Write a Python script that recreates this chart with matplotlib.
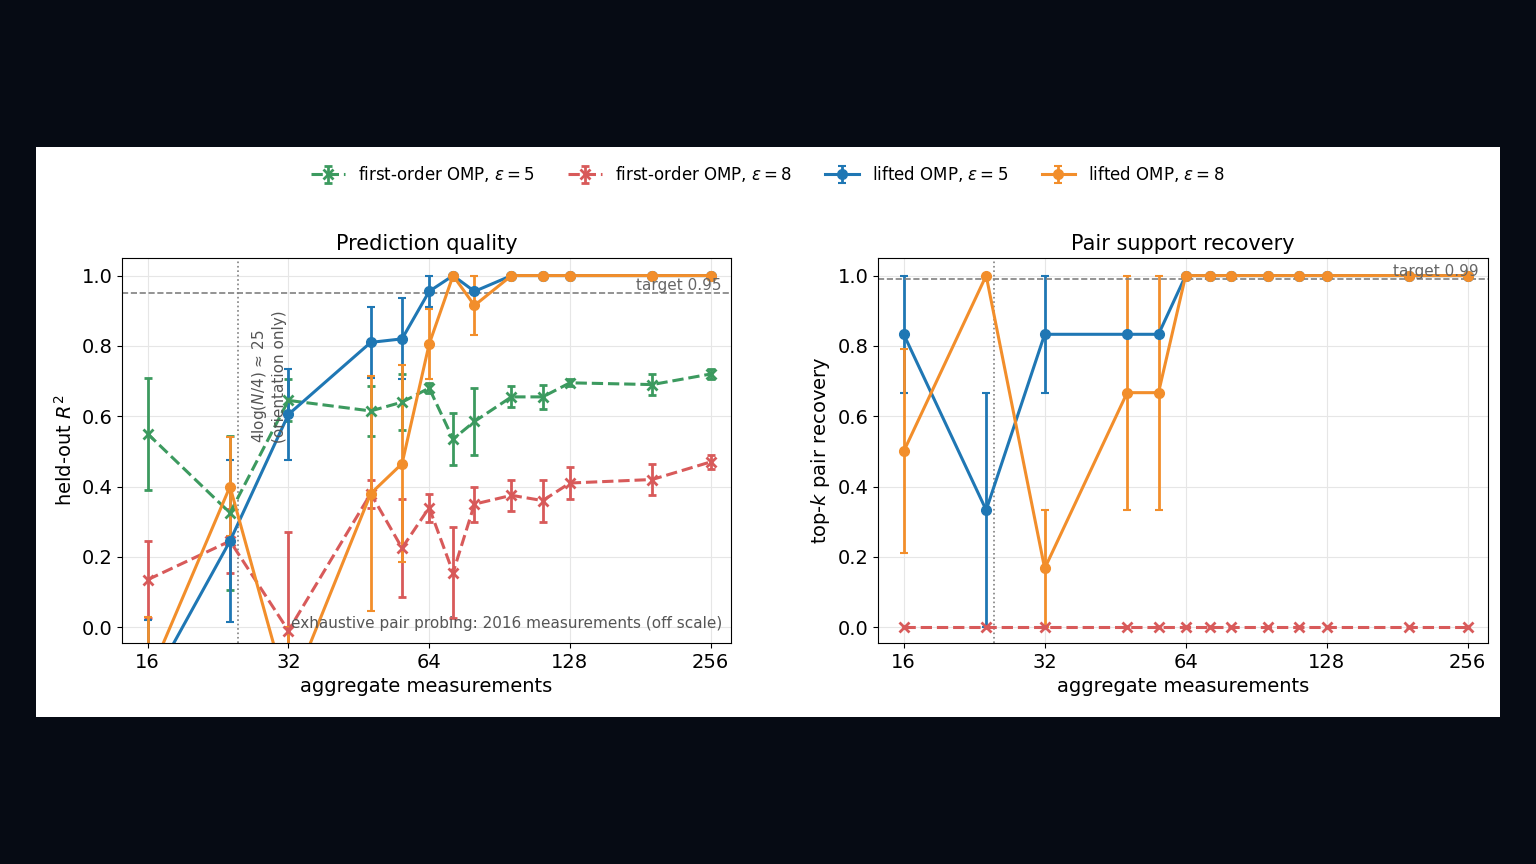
import numpy as np
import matplotlib.pyplot as plt
from matplotlib.patches import Rectangle

# measurement counts
m = [16, 24, 32, 48, 56, 64, 72, 80, 96, 112, 128, 192, 256]

# held-out R^2 (mean, error)
r2_fo5 = [0.55, 0.325, 0.645, 0.615, 0.64, 0.68, 0.535, 0.585, 0.655, 0.655, 0.695, 0.69, 0.72]
r2_fo5_err = [0.16, 0.22, 0.06, 0.07, 0.08, 0.015, 0.075, 0.095, 0.03, 0.035, 0.01, 0.03, 0.015]
r2_fo8 = [0.135, 0.245, -0.01, 0.38, 0.225, 0.34, 0.155, 0.35, 0.375, 0.36, 0.41, 0.42, 0.47]
r2_fo8_err = [0.11, 0.09, 0.28, 0.04, 0.14, 0.04, 0.13, 0.05, 0.045, 0.06, 0.045, 0.045, 0.02]
r2_l5 = [-0.18, 0.245, 0.605, 0.81, 0.82, 0.955, 1.0, 0.955, 1.0, 1.0, 1.0, 1.0, 1.0]
r2_l5_err = [0.2, 0.23, 0.13, 0.1, 0.115, 0.045, 0.0, 0.0, 0.0, 0.0, 0.0, 0.0, 0.0]
r2_l8 = [-0.15, 0.40, -0.2, 0.38, 0.465, 0.805, 1.0, 0.915, 1.0, 1.0, 1.0, 1.0, 1.0]
r2_l8_err = [0.18, 0.14, 0.2, 0.335, 0.28, 0.1, 0.0, 0.085, 0.0, 0.0, 0.0, 0.0, 0.0]

# top-k pair recovery (mean, lower err, upper err)
rec_fo8 = [0.0] * 13
rec_l5 = [0.833, 0.333, 0.833, 0.833, 0.833, 1, 1, 1, 1, 1, 1, 1, 1]
rec_l5_lo = [0.167, 0.333, 0.167, 0, 0, 0, 0, 0, 0, 0, 0, 0, 0]
rec_l5_hi = [0.167, 0.333, 0.167, 0, 0, 0, 0, 0, 0, 0, 0, 0, 0]
rec_l8 = [0.5, 1.0, 0.167, 0.667, 0.667, 1, 1, 1, 1, 1, 1, 1, 1]
rec_l8_lo = [0.29, 0, 0.167, 0.333, 0.333, 0, 0, 0, 0, 0, 0, 0, 0]
rec_l8_hi = [0.29, 0, 0.167, 0.333, 0.333, 0, 0, 0, 0, 0, 0, 0, 0]

GREEN, RED, BLUE, ORANGE = '#3c9a5f', '#d85a5a', '#1f77b4', '#f28e2b'

fig = plt.figure(figsize=(15.36, 8.64), dpi=100, facecolor='#060b14')
fig.patches.append(Rectangle((36 / 1536, 147 / 864), 1464 / 1536, 570 / 864,
                             transform=fig.transFigure, facecolor='white', zorder=-10))
ax1 = fig.add_axes([122 / 1536, 221 / 864, 609 / 1536, 385 / 864])
ax2 = fig.add_axes([878 / 1536, 221 / 864, 610 / 1536, 385 / 864])

kw = dict(capsize=3, elinewidth=2, capthick=1.5, lw=2.2)
h1 = ax1.errorbar(m, r2_fo5, yerr=r2_fo5_err, color=GREEN, ls='--', marker='x', ms=7, mew=2, **kw)
h2 = ax1.errorbar(m, r2_fo8, yerr=r2_fo8_err, color=RED, ls='--', marker='x', ms=7, mew=2, **kw)
h3 = ax1.errorbar(m, r2_l5, yerr=r2_l5_err, color=BLUE, marker='o', ms=7, **kw)
h4 = ax1.errorbar(m, r2_l8, yerr=r2_l8_err, color=ORANGE, marker='o', ms=7, **kw)

ax2.errorbar(m, rec_fo8, color=RED, ls='--', marker='x', ms=7, mew=2, **kw)
ax2.errorbar(m, rec_l5, yerr=[rec_l5_lo, rec_l5_hi], color=BLUE, marker='o', ms=7, **kw)
ax2.errorbar(m, rec_l8, yerr=[rec_l8_lo, rec_l8_hi], color=ORANGE, marker='o', ms=7, **kw)

for ax, tgt, title, ylab in [(ax1, 0.95, 'Prediction quality', 'held-out $R^2$'),
                             (ax2, 0.99, 'Pair support recovery', 'top-$k$ pair recovery')]:
    ax.set_xscale('log', base=2)
    ax.set_xticks([16, 32, 64, 128, 256])
    ax.set_xticklabels(['16', '32', '64', '128', '256'])
    ax.minorticks_off()
    ax.set_xlim(14.1, 283)
    ax.set_ylim(-0.045, 1.05)
    ax.set_yticks([0, 0.2, 0.4, 0.6, 0.8, 1.0])
    ax.grid(True, color='#e6e6e6', lw=0.8)
    ax.set_axisbelow(True)
    ax.axhline(tgt, color='gray', ls='--', lw=1.2)
    ax.axvline(25, color='gray', ls=':', lw=1.2)
    ax.text(0.985, tgt, f'target {tgt}', transform=ax.get_yaxis_transform(),
            ha='right', va='bottom', color='#666666', fontsize=11)
    ax.set_title(title, fontsize=15)
    ax.set_xlabel('aggregate measurements', fontsize=14)
    ax.set_ylabel(ylab, fontsize=14)
    ax.tick_params(labelsize=14)

ax1.text(26.5, 0.90, '4log($N$/4) ≈ 25\n(orientation only)', rotation=90,
         ha='left', va='top', color='#555555', fontsize=11)
ax1.text(0.985, 0.03, 'exhaustive pair probing: 2016 measurements (off scale)',
         transform=ax1.transAxes, ha='right', va='bottom', color='#555555', fontsize=11)

fig.legend([h1, h2, h3, h4],
           ['first-order OMP, $\\varepsilon = 5$', 'first-order OMP, $\\varepsilon = 8$',
            'lifted OMP, $\\varepsilon = 5$', 'lifted OMP, $\\varepsilon = 8$'],
           loc='center', bbox_to_anchor=(0.5, 1 - 174 / 864), ncol=4, frameon=False, fontsize=12)

fig.savefig('out.png', dpi=100, facecolor=fig.get_facecolor())
